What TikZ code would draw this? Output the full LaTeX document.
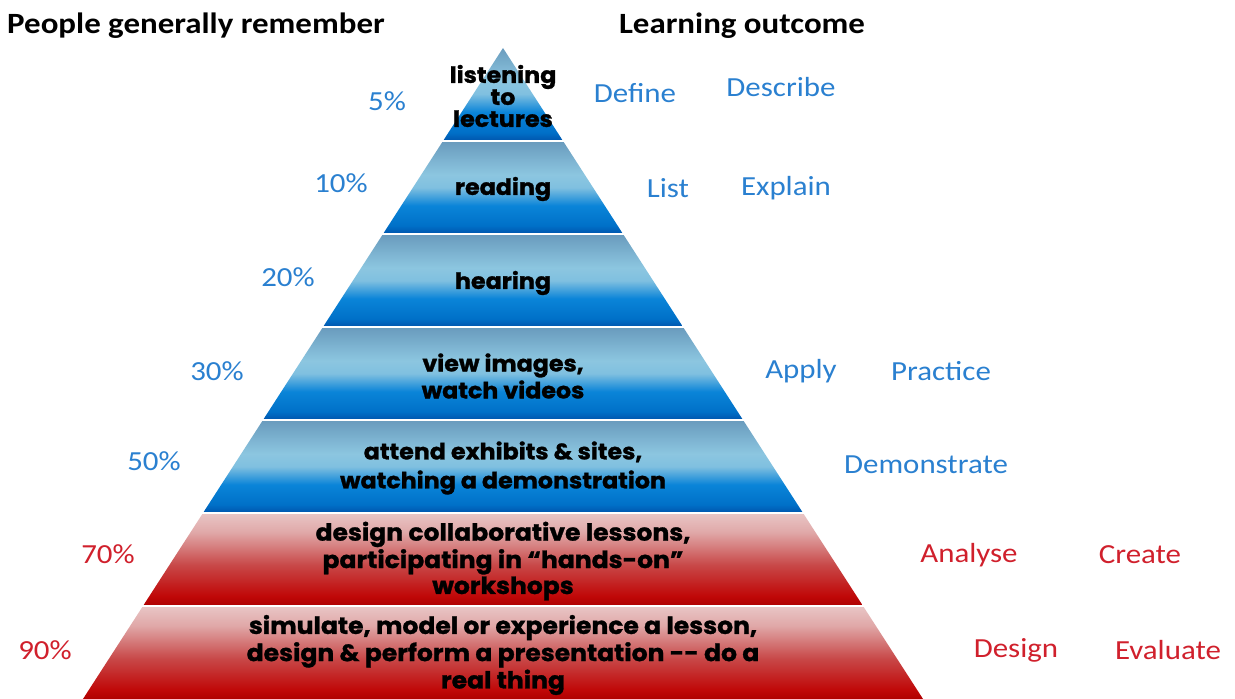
\documentclass[tikz,border=0pt]{standalone}
\usepackage{fontspec}
\setmainfont{Carlito}
\newfontfamily\lblfont[FakeStretch=1.12]{Carlito}
\newfontfamily\pyrfont[BoldFeatures={FakeBold=1.2,FakeStretch=1.06}]{Poppins}

\definecolor{lblblue}{HTML}{2A80D0}
\definecolor{lblred}{HTML}{D0202C}
% cores das camadas
\definecolor{bluebot}{HTML}{0058B0}
\definecolor{bluedeep}{HTML}{0070C8}
\definecolor{bluebright}{HTML}{0A84D8}
\definecolor{bluesoft}{HTML}{80C0E0}
\definecolor{bluelight}{HTML}{8CC6E0}
\definecolor{bluetop}{HTML}{6A9CBE}
\definecolor{redbot}{HTML}{B00000}
\definecolor{reddeep}{HTML}{C00808}
\definecolor{redmid}{HTML}{C84848}
\definecolor{redsoft}{HTML}{E0A8A8}
\definecolor{redtop}{HTML}{E8C4C4}

\pgfdeclareverticalshading{bluelayer}{100bp}{color(0bp)=(bluebot); color(25bp)=(bluebot); color(29bp)=(bluedeep); color(40bp)=(bluebright); color(50bp)=(bluesoft); color(57bp)=(bluelight); color(75bp)=(bluetop); color(100bp)=(bluetop)}
\pgfdeclareverticalshading{redlayer}{100bp}{color(0bp)=(redbot); color(25bp)=(redbot); color(30bp)=(reddeep); color(47bp)=(redmid); color(65bp)=(redsoft); color(75bp)=(redtop); color(100bp)=(redtop)}

\tikzset{
  layertext/.style={font=\pyrfont\bfseries\fontsize{11.2}{#1}\selectfont, align=center, inner sep=0pt},
  widetext/.style={font=\pyrfont\bfseries\fontsize{11.8}{#1}\selectfont, align=center, inner sep=0pt},
  bluelbl/.style={font=\lblfont\fontsize{13.8}{16}\selectfont, text=lblblue, inner sep=0pt},
  redlbl/.style={font=\lblfont\fontsize{13.8}{16}\selectfont, text=lblred, inner sep=0pt},
  headlbl/.style={font=\lblfont\bfseries\fontsize{14.7}{18}\selectfont, inner sep=0pt}
}

\begin{document}
\begin{tikzpicture}[x=0.5pt, y=-0.5pt]
\useasboundingbox (0,0) rectangle (1235,699);

% Camadas da piramide
\foreach \i/\sh in {0/bluelayer,1/bluelayer,2/bluelayer,3/bluelayer,4/bluelayer,5/redlayer,6/redlayer}{
  \pgfmathsetmacro\ya{\i==0 ? 48 : 48+93*\i+1.2}
  \pgfmathsetmacro\yb{\i==6 ? 699 : 48+93*(\i+1)-1.2}
  \pgfmathsetmacro\wa{(\ya-48)*0.6452}
  \pgfmathsetmacro\wb{(\yb-48)*0.6452}
  \shade[shading=\sh] (503-\wa,\ya) -- (503+\wa,\ya) -- (503+\wb,\yb) -- (503-\wb,\yb) -- cycle;
}

% Textos das camadas
\node[layertext=11] (listen) at (503,96) {listening\\to\\lectures};
\node[layertext=11] (read) at (503,189) {reading};
\node[layertext=11] (hear) at (503,283) {hearing};
\node[layertext=13.5] (view) at (503,376) {view images,\\watch videos};
\node[layertext=14.5] (attend) at (503,468) {attend exhibits \& sites,\\watching a demonstration};
\node[widetext=10.5] (collab) at (503,561) {design collaborative lessons,\\participating in “hands-on”\\workshops};
\node[widetext=10.5] (simul) at (503,655) {simulate, model or experience a lesson,\\design \& perform a presentation -{}- do a\\real thing};

% Titulos
\node[headlbl] (remember) at (196,26) {People generally remember};
\node[headlbl] (outcome) at (742,26) {Learning outcome};

% Percentagens
\node[bluelbl] (p5) at (387,101) {5\%};
\node[bluelbl] (p10) at (341,183) {10\%};
\node[bluelbl] (p20) at (288,277) {20\%};
\node[bluelbl] (p30) at (217,371) {30\%};
\node[bluelbl] (p50) at (154,461) {50\%};
\node[redlbl] (p70) at (108,554) {70\%};
\node[redlbl] (p90) at (45,650) {90\%};

% Resultados
\node[bluelbl] (define) at (635,93) {Define};
\node[bluelbl] (describe) at (781,87) {Describe};
\node[bluelbl] (list) at (668,188) {List};
\node[bluelbl] (explain) at (786,188) {Explain};
\node[bluelbl] (apply) at (801,371) {Apply};
\node[bluelbl] (practice) at (941,371) {Practice};
\node[bluelbl] (demo) at (926,465) {Demonstrate};
\node[redlbl] (analyse) at (969,555) {Analyse};
\node[redlbl] (create) at (1140,555) {Create};
\node[redlbl] (design) at (1016,650) {Design};
\node[redlbl] (evaluate) at (1168,650) {Evaluate};
\end{tikzpicture}
\end{document}
